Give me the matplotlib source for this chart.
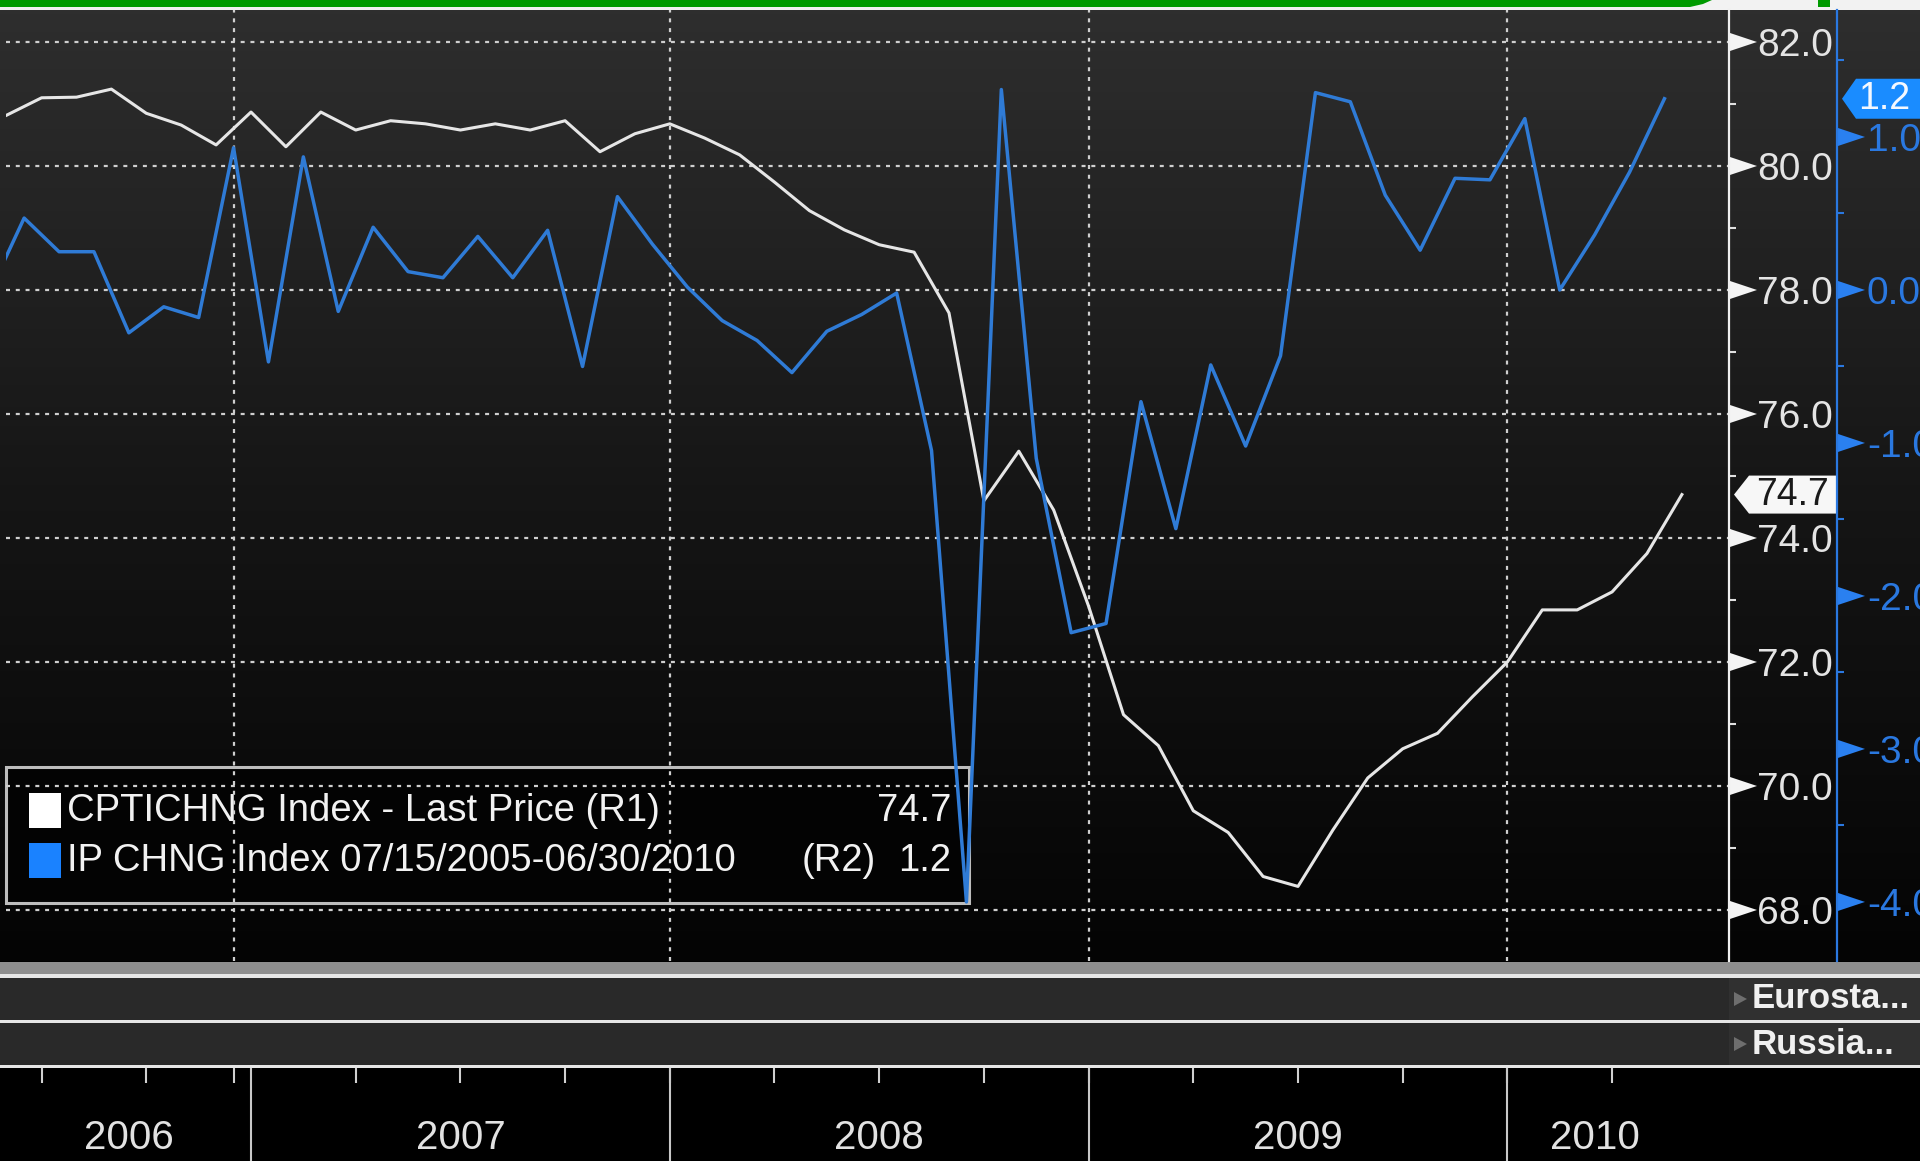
import numpy as np
import pandas as pd
import matplotlib
matplotlib.use("Agg")
import matplotlib.pyplot as plt
from matplotlib.patches import Polygon, Rectangle
from matplotlib.colors import LinearSegmentedColormap
from matplotlib.ticker import FixedLocator

# ---------------- data ----------------
cpti_months = pd.period_range("2006-06", "2010-06", freq="M").astype(str).tolist()
cpti_values = [80.82, 81.10, 81.11, 81.24, 80.85, 80.66, 80.34, 80.87, 80.31, 80.87,
               80.58, 80.73, 80.68, 80.58, 80.68, 80.58, 80.73, 80.23, 80.52, 80.68,
               80.45, 80.18, 79.74, 79.28, 78.97, 78.73, 78.61, 77.63, 74.60, 75.40,
               74.45, 72.90, 71.15, 70.65, 69.60, 69.25, 68.54, 68.38, 69.29, 70.13,
               70.60, 70.85, 71.44, 72.00, 72.84, 72.84, 73.13, 73.75, 74.70]

# IP CHNG: mid-month observations (May 2006 .. May 2010)
ip_months = pd.period_range("2006-05", "2010-05", freq="M").astype(str).tolist()
ip_values = [-0.02,
             0.47, 0.25, 0.25, -0.28, -0.11, -0.18, 0.93, -0.47, 0.87, -0.14,
             0.41, 0.12, 0.08, 0.35, 0.08, 0.39, -0.50, 0.61, 0.30, 0.02,
             -0.20, -0.33, -0.54, -0.27, -0.16, -0.02, -1.05, -4.00, 1.31, -1.10,
             -2.24, -2.18, -0.73, -1.56, -0.49, -1.02, -0.43, 1.29, 1.23, 0.62,
             0.26, 0.73, 0.72, 1.12, 0.00, 0.36, 0.77, 1.25]

r1_ticks = [68.0, 70.0, 72.0, 74.0, 76.0, 78.0, 80.0, 82.0]
r1_minor = [69.0, 71.0, 73.0, 75.0, 77.0, 79.0, 81.0]
r2_ticks = [-4.0, -3.0, -2.0, -1.0, 0.0, 1.0]
r2_minor = [-3.5, -2.5, -1.5, -0.5, 0.5, 1.5]
years = ["2006", "2007", "2008", "2009", "2010"]
legend_names = ["CPTICHNG Index - Last Price", "IP CHNG Index 07/15/2005-06/30/2010"]
legend_axes = ["(R1)", "(R2)"]
panel_labels = ["Eurosta...", "Russia..."]

# ---------------- positions (months since Jun 2006) ----------------
base = pd.Period("2006-06", freq="M")
cpti_x = np.array([(pd.Period(m, freq="M") - base).n for m in cpti_months], float)
ip_x = np.array([(pd.Period(m, freq="M") - base).n for m in ip_months], float) + 0.5
year_start = [(pd.Period(f"{y}-01", freq="M") - base).n for y in years]
year_bounds = year_start[1:]
quarter_ticks = [1, 4, 6.5, 10, 13, 16, 19, 22, 25, 28, 31, 34, 37, 40, 43, 46]
vgrid = [6.5, 19, 31, 43]

plt.rcParams["font.family"] = ["Liberation Sans", "DejaVu Sans"]
plt.rcParams["axes.unicode_minus"] = False

W, H, DPI = 1920, 1161, 100
fig = plt.figure(figsize=(W / DPI, H / DPI), dpi=DPI, facecolor="black")


def fbox(x0, y0, x1, y1):
    return [x0 / W, 1 - y1 / H, (x1 - x0) / W, (y1 - y0) / H]


# background gradient
bg = fig.add_axes(fbox(0, 10, W, 961), zorder=0)
cmap = LinearSegmentedColormap.from_list("g", ["#2e2e2e", "#161616", "#040404"])
bg.imshow(np.linspace(0, 1, 256)[:, None], aspect="auto", cmap=cmap,
          extent=(0, 1, 0, 1), origin="upper")
bg.set_axis_off()

# overlay in pixel coords
ov = fig.add_axes([0, 0, 1, 1], zorder=1)
ov.set_xlim(0, W)
ov.set_ylim(H, 0)
ov.set_axis_off()
ov.patch.set_alpha(0)
ov.add_patch(Rectangle((0, 0), W, 10, color="#f2f2f2", lw=0))
ov.add_patch(Polygon([(0, 0), (1712, 0), (1703, 4), (1690, 7), (0, 7)],
                     closed=True, color="#009a00", lw=0))
ov.add_patch(Rectangle((1818, 0), 12, 7, color="#009a00", lw=0))
# bottom panels
ov.add_patch(Rectangle((0, 962), W, 12, color="#8e8e8e", lw=0))
ov.add_patch(Rectangle((0, 974), W, 4, color="#e6e6e6", lw=0))
ov.add_patch(Rectangle((0, 978), 1729, 42, color="#292929", lw=0))
ov.add_patch(Rectangle((1729, 978), W - 1729, 42, color="#303030", lw=0))
ov.add_patch(Rectangle((0, 1020), W, 3, color="#e6e6e6", lw=0))
ov.add_patch(Rectangle((0, 1023), 1729, 42, color="#292929", lw=0))
ov.add_patch(Rectangle((1729, 1023), W - 1729, 42, color="#303030", lw=0))
ov.add_patch(Rectangle((0, 1065), W, 3, color="#e6e6e6", lw=0))
for lab, yc in zip(panel_labels, [999, 1044]):
    ov.add_patch(Polygon([(1734, yc - 7), (1747, yc), (1734, yc + 7)],
                         closed=True, color="#6e6e6e", lw=0))
    ov.text(1752, yc, lab, color="#f0f0f0", fontsize=25, fontweight="bold",
            va="center", ha="left")
# legend box
ov.add_patch(Rectangle((6, 767), 963, 136, facecolor="#030303",
                       edgecolor="#bdbdbd", lw=2.2))
ov.add_patch(Rectangle((29, 793), 32, 35, color="#ffffff", lw=0))
ov.add_patch(Rectangle((29, 843), 32, 35, color="#1a82ff", lw=0))
ov.text(67, 811, legend_names[0] + " " + legend_axes[0], color="#f2f2f2",
        fontsize=27.5, va="center", ha="left")
ov.text(67, 861, legend_names[1], color="#f2f2f2", fontsize=27.5,
        va="center", ha="left")
ov.text(802, 861, legend_axes[1], color="#f2f2f2", fontsize=27.5,
        va="center", ha="left")
ov.text(951, 811, f"{cpti_values[-1]:.1f}", color="#f2f2f2", fontsize=27.5,
        va="center", ha="right")
ov.text(951, 861, f"{ip_values[-1]:.1f}", color="#f2f2f2", fontsize=27.5,
        va="center", ha="right")

# ---------------- main axes (R1) ----------------
AX_L, AX_R = 6, 1729
axw = AX_R - AX_L
ax = fig.add_axes(fbox(AX_L, 10, AX_R, 961), zorder=2)
ax.patch.set_alpha(0)
ax.set_xlim(-0.02, 49.35)
ax.set_ylim(67.177, 82.516)

# ---------------- R2 axis ----------------
ax2 = ax.twinx()
ax2.set_zorder(3)
ax2.patch.set_alpha(0)
ax2.set_ylim(-4.386, 1.830)

for s in ["left", "top", "bottom"]:
    ax.spines[s].set_visible(False)
    ax2.spines[s].set_visible(False)
ax.spines["right"].set_visible(True)
ax.spines["right"].set_color("#f0f0f0")
ax.spines["right"].set_linewidth(1.6)
ax.set_xticks(vgrid)
ax.tick_params(axis="x", length=0, labelbottom=False)
ax.yaxis.tick_right()
ax.yaxis.set_label_position("right")
ax.set_yticks(r1_ticks)
ax.yaxis.set_minor_locator(FixedLocator(r1_minor))
ax.yaxis.set_major_formatter("{x:.1f}")
ax.tick_params(axis="y", which="both", left=False, labelleft=False,
               right=True, labelright=True)
ax.tick_params(axis="y", which="major", length=0, pad=20.5, labelsize=28,
               labelcolor="#e4e4e4")
ax.tick_params(axis="y", which="minor", length=5, width=1.5, color="#e0e0e0",
               direction="out")
ax.grid(True, axis="both", color="#cfcfcf", lw=1.6, linestyle=(0, (1.8, 2.6)))
ax.plot(cpti_x, cpti_values, color="#e6e6e6", lw=2.2, zorder=3)

ytr = ax.get_yaxis_transform()
fx = lambda px: (px - AX_L) / axw
h1 = 9 / 62.0
for t in r1_ticks:
    ax.add_patch(Polygon([(fx(1730), t - h1), (fx(1757), t), (fx(1730), t + h1)],
                         closed=True, transform=ytr, color="#f4f4f4",
                         clip_on=False, lw=0))
last1 = cpti_values[-1]
hb = 19 / 62.0
ax.add_patch(Polygon([(fx(1734), last1), (fx(1749), last1 + hb), (fx(1837), last1 + hb),
                      (fx(1837), last1 - hb), (fx(1749), last1 - hb)],
                     closed=True, transform=ytr, color="#f7f7f7", clip_on=False,
                     lw=0, zorder=5))
ax.text(fx(1792), last1, f"{last1:.1f}", transform=ytr, color="#1a1a1a",
        fontsize=27, ha="center", va="center", zorder=6, clip_on=False)

ax2.spines["right"].set_position(("axes", fx(1837)))
ax2.spines["right"].set_color("#2a78e0")
ax2.spines["right"].set_linewidth(1.6)
ax2.set_yticks(r2_ticks)
ax2.yaxis.set_minor_locator(FixedLocator(r2_minor))
ax2.yaxis.set_major_formatter("{x:.1f}")
ax2.tick_params(axis="y", which="major", length=0, pad=21.5, labelsize=28,
                labelcolor="#2a78e0")
ax2.tick_params(axis="y", which="minor", length=5, width=1.5, color="#2a78e0",
                direction="out")
ax2.plot(ip_x, ip_values, color="#2f7bd6", lw=2.5, zorder=3)

ytr2 = ax2.get_yaxis_transform()
h2 = 9 / 153.0
for t in r2_ticks:
    ax2.add_patch(Polygon([(fx(1838), t - h2), (fx(1865), t), (fx(1838), t + h2)],
                          closed=True, transform=ytr2, color="#2a80f0",
                          clip_on=False, lw=0))
last2 = ip_values[-1]
hb2 = 20 / 153.0
ax2.add_patch(Polygon([(fx(1842), last2), (fx(1856), last2 + hb2), (fx(1930), last2 + hb2),
                       (fx(1930), last2 - hb2), (fx(1856), last2 - hb2)],
                      closed=True, transform=ytr2, color="#1a8cff", clip_on=False,
                      lw=0, zorder=5))
ax2.text(fx(1884), last2, f"{last2:.1f}", transform=ytr2, color="#f4f8ff",
         fontsize=27, ha="center", va="center", zorder=6, clip_on=False)

# ---------------- bottom date axis ----------------
axb = fig.add_axes(fbox(AX_L, 1068, AX_R, H), zorder=2)
axb.set_facecolor("black")
axb.set_xlim(ax.get_xlim())
axb.set_ylim(0, 1)
axb.set_axis_off()
axb.vlines(quarter_ticks, 1 - 15 / 93, 1, color="#d0d0d0", lw=1.5)
axb.vlines(year_bounds, 0, 1, color="#c8c8c8", lw=1.5)
ys = year_start + [year_start[-1] + 12]
for i, y in enumerate(years):
    c = (max(ys[i], cpti_x[0]) + min(ys[i + 1], cpti_x[-1])) / 2
    axb.text(c, 0.25, y, color="#e2e2e2", fontsize=29, ha="center", va="center")

fig.savefig("out.png", dpi=DPI, facecolor=fig.get_facecolor())
